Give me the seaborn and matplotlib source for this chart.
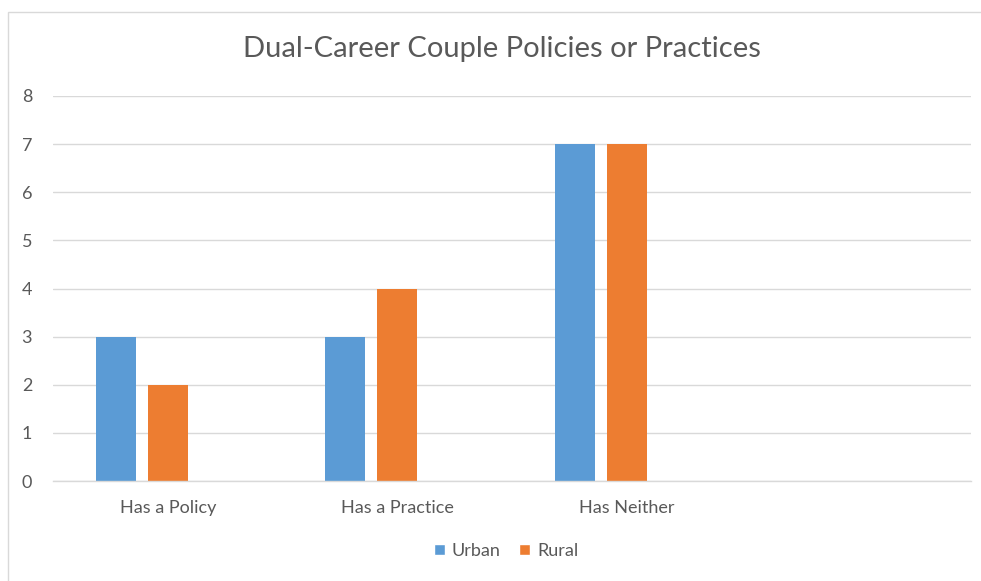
import matplotlib
matplotlib.use("Agg")
import matplotlib.pyplot as plt
from matplotlib.patches import Patch, Rectangle
import seaborn as sns
import pandas as pd

categories = ["Has a Policy", "Has a Practice", "Has Neither", " "]
urban = [3, 3, 7]
rural = [2, 4, 7]
series = ["Urban", "Rural", "Series3"]
colors = {"Urban": "#5B9BD5", "Rural": "#ED7D31", "Series3": "#A5A5A5"}
yticks = [0, 1, 2, 3, 4, 5, 6, 7, 8]
title = "Dual-Career Couple Policies or Practices"

rows = []
for c, v in zip(categories, urban):
    rows.append({"cat": c, "series": "Urban", "value": v})
for c, v in zip(categories, rural):
    rows.append({"cat": c, "series": "Rural", "value": v})
df = pd.DataFrame(rows)

sns.set_theme(style="white")
plt.rcParams["font.family"] = ["Lato", "DejaVu Sans"]

fig = plt.figure(figsize=(9.81, 5.81), dpi=100)
fig.patch.set_facecolor("white")
ax = fig.add_axes([53 / 981, (581 - 481) / 581, (971 - 53) / 981, (481 - 96) / 581])

sns.barplot(data=df, x="cat", y="value", hue="series", order=categories,
            hue_order=series, palette=colors, width=0.68, gap=0.23,
            errorbar=None, legend=False, ax=ax, linewidth=0, saturation=1)

ax.set_xlim(-0.5, len(categories) - 0.5)
ax.set_ylim(0, 8)
ax.set_yticks(yticks)
ax.set_yticklabels([str(t) for t in yticks])
ax.yaxis.grid(True, color="#D9D9D9", linewidth=1.0)
ax.set_axisbelow(True)
for s in ["top", "right", "left"]:
    ax.spines[s].set_visible(False)
ax.spines["bottom"].set_color("#D9D9D9")
ax.spines["bottom"].set_linewidth(1.0)
ax.tick_params(axis="both", length=0, colors="#595959", labelsize=13)
ax.tick_params(axis="y", pad=15)
ax.tick_params(axis="x", pad=14)
ax.set_xlabel("")
ax.set_ylabel("")

fig.text(502 / 981, 1 - 49 / 581, title, ha="center", va="center",
         fontsize=21, color="#595959")

handles = [Patch(facecolor=colors["Urban"], label="Urban"),
           Patch(facecolor=colors["Rural"], label="Rural")]
fig.legend(handles=handles, loc="center", bbox_to_anchor=(506 / 981, 1 - 551 / 581),
           ncol=2, frameon=False, fontsize=13, labelcolor="#595959",
           handlelength=0.6, handleheight=0.6, handletextpad=0.4, columnspacing=1.0)

fig.add_artist(Rectangle((8 / 981, -0.1), 1.0, 1 - 12 / 581 + 0.1,
                         transform=fig.transFigure, fill=False,
                         edgecolor="#D9D9D9", linewidth=1.0))

fig.savefig("out.png", dpi=100, facecolor="white")
